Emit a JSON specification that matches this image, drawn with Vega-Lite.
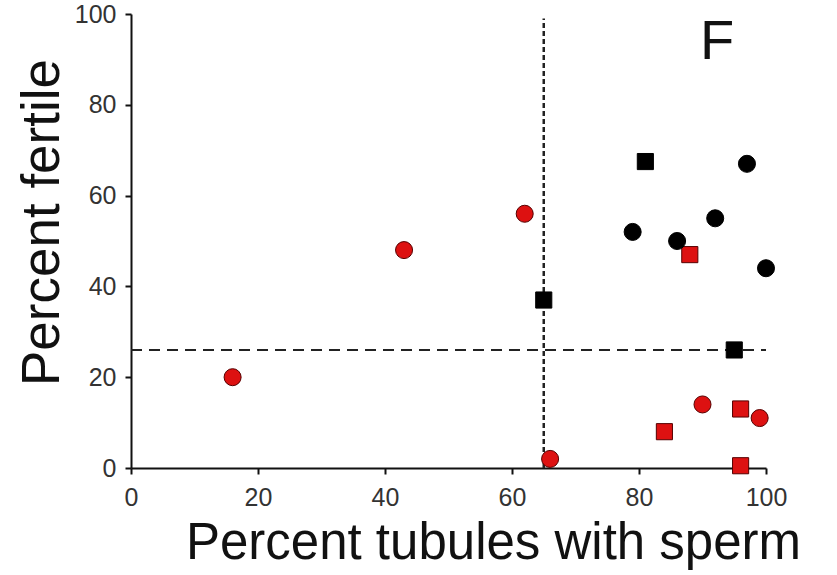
{
  "$schema": "https://vega.github.io/schema/vega-lite/v6.json",
  "autosize": "none",
  "width": 635,
  "height": 454,
  "padding": {"left": 131, "top": 14, "right": 71, "bottom": 107},
  "background": "white",
  "config": {
    "view": {"stroke": null},
    "font": "Liberation Sans",
    "axis": {
      "grid": false,
      "domainColor": "#111",
      "domainWidth": 2,
      "tickColor": "#111",
      "tickWidth": 2,
      "tickSize": 6,
      "labelFont": "Liberation Sans",
      "labelFontSize": 25,
      "labelColor": "#333",
      "labelFlush": false,
      "titleFont": "Liberation Sans",
      "titleFontSize": 53,
      "titleFontWeight": "normal",
      "titleColor": "#111"
    }
  },
  "datasets": {
    "points": [
      {"x": 16, "y": 20, "group": "red", "shape": "circle"},
      {"x": 43, "y": 48, "group": "red", "shape": "circle"},
      {"x": 62, "y": 56, "group": "red", "shape": "circle"},
      {"x": 66, "y": 2, "group": "red", "shape": "circle"},
      {"x": 90, "y": 14, "group": "red", "shape": "circle"},
      {"x": 99, "y": 11, "group": "red", "shape": "circle"},
      {"x": 88, "y": 47, "group": "red", "shape": "square"},
      {"x": 84, "y": 8, "group": "red", "shape": "square"},
      {"x": 96, "y": 13, "group": "red", "shape": "square"},
      {"x": 96, "y": 0.5, "group": "red", "shape": "square"},
      {"x": 79, "y": 52, "group": "black", "shape": "circle"},
      {"x": 86, "y": 50, "group": "black", "shape": "circle"},
      {"x": 92, "y": 55, "group": "black", "shape": "circle"},
      {"x": 97, "y": 67, "group": "black", "shape": "circle"},
      {"x": 100, "y": 44, "group": "black", "shape": "circle"},
      {"x": 81, "y": 67.5, "group": "black", "shape": "square"},
      {"x": 65, "y": 37, "group": "black", "shape": "square"},
      {"x": 95, "y": 26, "group": "black", "shape": "square"}
    ],
    "vline": [{"x": 65, "y": 0, "y2": 99}],
    "hline": [{"x": 0, "x2": 100, "y": 26}],
    "label": [{"x": 92.3, "y": 90, "text": "F"}]
  },
  "layer": [
    {
      "data": {"name": "vline"},
      "mark": {"type": "rule", "strokeDash": [5, 3], "strokeWidth": 2.5, "color": "#222"},
      "encoding": {
        "x": {"field": "x", "type": "quantitative", "scale": {"domain": [0, 100], "nice": false},
          "axis": {"values": [0, 20, 40, 60, 80, 100], "title": "Percent tubules with sperm", "labelPadding": 11, "titleFontSize": 51, "titleX": 362, "titleY": 90, "titleBaseline": "alphabetic", "titleAlign": "center"}},
        "y": {"field": "y", "type": "quantitative", "scale": {"domain": [0, 100], "nice": false},
          "axis": {"values": [0, 20, 40, 60, 80, 100], "title": "Percent fertile", "labelPadding": 9, "titleX": -73, "titleY": 208, "titleAngle": -90, "titleBaseline": "alphabetic", "titleAlign": "center"}},
        "y2": {"field": "y2"}
      }
    },
    {
      "data": {"name": "hline"},
      "mark": {"type": "rule", "strokeDash": [11, 7], "strokeWidth": 2, "color": "#222"},
      "encoding": {
        "x": {"field": "x", "type": "quantitative"},
        "x2": {"field": "x2"},
        "y": {"field": "y", "type": "quantitative"}
      }
    },
    {
      "data": {"name": "points"},
      "mark": {"type": "point", "filled": true, "opacity": 1, "strokeWidth": 1},
      "encoding": {
        "x": {"field": "x", "type": "quantitative"},
        "y": {"field": "y", "type": "quantitative"},
        "shape": {"field": "shape", "type": "nominal", "scale": {"domain": ["circle", "square"], "range": ["circle", "square"]}, "legend": null},
        "size": {"field": "shape", "type": "nominal", "scale": {"domain": ["circle", "square"], "range": [290, 260]}, "legend": null},
        "fill": {"field": "group", "type": "nominal", "scale": {"domain": ["red", "black"], "range": ["#dd1111", "#000000"]}, "legend": null},
        "stroke": {"field": "group", "type": "nominal", "scale": {"domain": ["red", "black"], "range": ["#550000", "#000000"]}, "legend": null}
      }
    },
    {
      "data": {"name": "label"},
      "mark": {"type": "text", "fontSize": 56, "font": "Liberation Sans", "align": "center", "baseline": "alphabetic", "color": "#111"},
      "encoding": {
        "x": {"field": "x", "type": "quantitative"},
        "y": {"field": "y", "type": "quantitative"},
        "text": {"field": "text"}
      }
    }
  ]
}
